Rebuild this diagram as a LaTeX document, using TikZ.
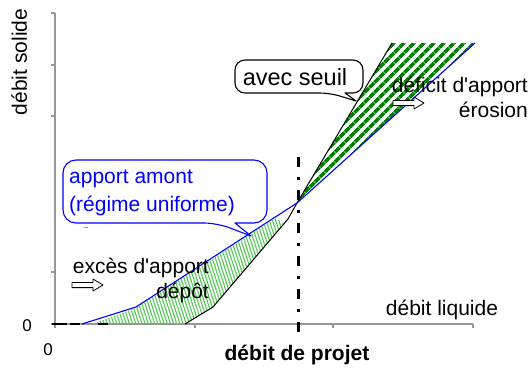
\documentclass[tikz,border=0pt]{standalone}
\usepackage{fontspec}
\setmainfont{Liberation Sans}
\usetikzlibrary{patterns.meta}

\definecolor{axisgray}{RGB}{150,150,150}
\definecolor{hatchdark}{RGB}{0,128,0}
\definecolor{hatchlight}{RGB}{80,200,80}

\tikzset{
  lbl/.style={inner sep=0pt, font=\fontsize{21}{25}\selectfont},
  zerolbl/.style={inner sep=0pt, font=\fontsize{17}{20}\selectfont},
  axisline/.style={draw=axisgray, line width=1.3pt},
  supply/.style={draw=blue, line width=1.1pt},
  weir/.style={draw=black, line width=1pt},
  bubble/.style={line width=1.1pt, fill=white},
  hollowarrow/.pic={\draw[black, line width=0.8pt, fill=white]
    (0,-2.6) -- (21,-2.6) -- (21,-6) -- (31,0) -- (21,6) -- (21,2.6) -- (0,2.6) -- cycle;}
}
\newcommand{\apos}{\textquotesingle}

\begin{document}
\begin{tikzpicture}[x=1pt, y=-1pt, line join=round]
\useasboundingbox (0,0) rectangle (532,372);

% key points of the two rating curves
\coordinate (b0) at (82,324);
\coordinate (b1) at (136,307);
\coordinate (cross) at (297,203);
\coordinate (b3) at (475,43);
\coordinate (k0) at (55,324);
\coordinate (k1) at (185,324);
\coordinate (k2) at (213,307);
\coordinate (k3) at (288,219);
\coordinate (k4) at (392,43);

% hatched zones: deposition (light) and erosion (dark)
\fill[pattern={Lines[angle=108, distance=3pt, line width=1.1pt]}, pattern color=hatchlight]
  (92,324) -- (136,308) -- (276,218) -- (284,224) -- (k2) -- (k1) -- cycle;
\fill[pattern={Lines[angle=45, distance=7.4pt, line width=3.8pt]}, pattern color=hatchdark]
  (cross) -- (k4) -- (b3) -- cycle;

% axes
\draw[axisline] (55,13) -- (55,324) -- (473,324);
\foreach \ty in {13,65,116,272,324} \draw[axisline] (51,\ty) -- (55,\ty);
\foreach \tx in {55,195,333,473} \draw[axisline] (\tx,324) -- (\tx,328);
\draw[axisline, line width=1pt] (84,227) -- (88,227);

% low flow part of the weir curve lying on the axis
\draw[black, line width=2.4pt, dash pattern=on 15pt off 3pt on 10pt off 18pt on 10pt] (52,324) -- (108,324);

% rating curves
\draw[weir] (k1) -- (k2) -- (k3) -- (cross) -- (k4);
\draw[supply] (b0) -- (b1) -- (cross) -- (b3);

% design discharge
\draw[black, line width=3pt, dash pattern=on 10pt off 10pt on 3pt off 10pt] (298,157) -- (298,341);

% callouts
\draw[bubble, draw=blue] (251,236) -- (235,223) [rounded corners=13pt] -- (267,223) -- (267,160) -- (63,160) -- (63,223) -- (217,223) [sharp corners] -- cycle;
\draw[bubble, draw=black] (356,101) -- (345,93) [rounded corners=10pt] -- (363,93) -- (363,60) -- (235,60) -- (235,93) -- (330,93) [sharp corners] -- cycle;

% texts
\node[lbl, rotate=90, anchor=base] (ylab) at (27,62) {débit solide};
\node[zerolbl] (zeroy) at (27,326) {0};
\node[zerolbl] (zerox) at (48,350) {0};
\node[lbl] (xlab) at (442,310) {débit liquide};
\node[lbl, font=\fontsize{21}{25}\selectfont\bfseries] (design) at (297,355) {débit de projet};
\node[lbl, font=\fontsize{23.5}{27}\selectfont] (weirlab) at (295,77) {avec seuil};
\node[lbl, text=blue, align=left, anchor=west, font=\fontsize{21}{28}\selectfont] (supplylab) at (69,193) {apport amont\\(régime uniforme)};
\node[lbl, align=right, anchor=east] (deficit) at (528,97) {déficit d\apos{}apport\\érosion};
\node[lbl, align=right, anchor=east] (excess) at (209,280) {excès d\apos{}apport\\dépôt};

% hollow arrows
\pic at (72,285) {hollowarrow};
\pic at (393,103) {hollowarrow};
\end{tikzpicture}
\end{document}
